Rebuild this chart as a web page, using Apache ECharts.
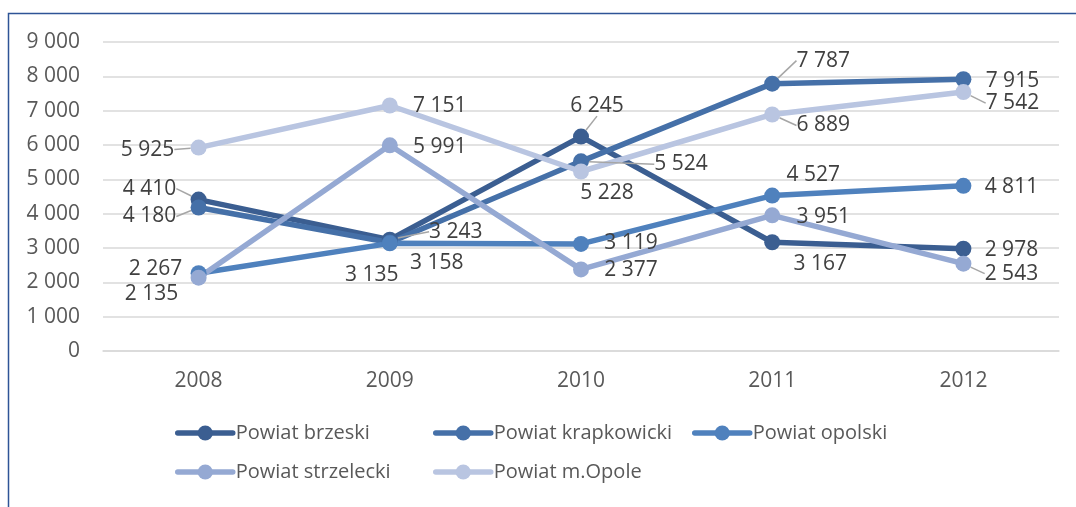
<!DOCTYPE html>
<html>
<head>
<meta charset="utf-8">
<script src="https://cdn.jsdelivr.net/npm/echarts@6/dist/echarts.min.js"></script>
<style>
  html, body { margin: 0; padding: 0; background: #fff; }
  #chart { width: 1076px; height: 507px; }
</style>
</head>
<body>
<div id="chart"></div>
<script>
// dane
const years = ['2008', '2009', '2010', '2011', '2012']
const brzeski = [4410, 3243, 6245, 3167, 2978]
const krapkowicki = [4180, 3158, 5524, 7787, 7915]
const opolski = [2267, 3135, 3119, 4527, 4811]
const strzelecki = [2135, 5991, 2377, 3951, 2543]
const opole = [5925, 7151, 5228, 6889, 7542]

const names = ['Powiat brzeski', 'Powiat krapkowicki', 'Powiat opolski', 'Powiat strzelecki', 'Powiat m.Opole']
const colors = ['#3B5E91', '#4570A8', '#4F81BD', '#95A9D3', '#B9C5E1']

// przesuniecia etykiet wzgledem punktu (dx, dy)
const labelOffsets = [
  [[-49, -11], [66, -8], [16, -31], [48, 22], [48, 1]],
  [[-49, 9], [47, 20], [100, 3], [51, -23], [49, 2]],
  [[-43, -4], [-18, 32], [50, -1], [41, -21], [48, 1]],
  [[-47, 16], [50, 2], [50, 1], [51, 2], [48, 10]],
  [[-51, 2], [50, 1], [26, 22], [51, 11], [49, 11]]
]
// linie odniesienia
const leaders = [
  [1, 1, 1, 0, 0],
  [1, 0, 1, 1, 0],
  [0, 0, 0, 0, 0],
  [0, 0, 0, 0, 1],
  [1, 0, 0, 1, 1]
]

const fmt = v => String(v).replace(/\B(?=(\d{3})+(?!\d))/g, ' ')
const font = '"Open Sans", "Noto Sans", sans-serif'

const chart = echarts.init(document.getElementById('chart'))

const seriesData = [brzeski, krapkowicki, opolski, strzelecki, opole]

const series = seriesData.map((vals, si) => ({
  name: names[si],
  type: 'line',
  data: vals.map((v, i) => ({
    value: v,
    labelLine: { show: !!leaders[si][i] }
  })),
  symbol: 'circle',
  symbolSize: 16,
  lineStyle: { width: 5.5, color: colors[si], cap: 'round' },
  itemStyle: { color: colors[si] },
  label: {
    show: true,
    position: 'inside',
    formatter: p => fmt(p.value),
    color: '#404040',
    fontSize: 21,
    fontFamily: font
  },
  labelLine: {
    lineStyle: { color: '#A6A6A6', width: 1.5 }
  },
  labelLayout: p => ({
    dx: labelOffsets[p.seriesIndex][p.dataIndex][0],
    dy: labelOffsets[p.seriesIndex][p.dataIndex][1]
  }),
  emphasis: { disabled: true },
  animation: false
}))

const legendPos = [
  [175, 423], [433, 423], [692, 423],
  [175, 462], [433, 462]
]

const legends = names.map((n, i) => ({
  data: [n],
  left: legendPos[i][0],
  top: legendPos[i][1],
  padding: 0,
  itemWidth: 55,
  itemHeight: 19,
  itemGap: 0,
  selectedMode: false,
  lineStyle: { width: 5.5, cap: 'round' },
  textStyle: { color: '#595959', fontSize: 20, fontFamily: font, padding: [0, 0, 0, -2] }
}))

chart.setOption({
  animation: false,
  graphic: [{
    type: 'rect',
    shape: { x: 8.5, y: 13.5, width: 1200, height: 600 },
    style: { fill: 'none', stroke: '#2E5496', lineWidth: 1.5 },
    silent: true
  }],
  legend: legends,
  grid: {
    left: 103,
    right: 17,
    top: 42,
    bottom: 156
  },
  xAxis: {
    type: 'category',
    data: years,
    axisLine: { lineStyle: { color: '#D9D9D9', width: 1.5 } },
    axisTick: { show: false },
    axisLabel: { color: '#595959', fontSize: 21, fontFamily: font, margin: 20 }
  },
  yAxis: {
    type: 'value',
    min: 0,
    max: 9000,
    interval: 1000,
    axisLine: { show: false },
    axisTick: { show: false },
    splitLine: { lineStyle: { color: '#D9D9D9', width: 1.5 } },
    axisLabel: { color: '#595959', fontSize: 21, fontFamily: font, margin: 23, formatter: fmt }
  },
  series
})
</script>
</body>
</html>
